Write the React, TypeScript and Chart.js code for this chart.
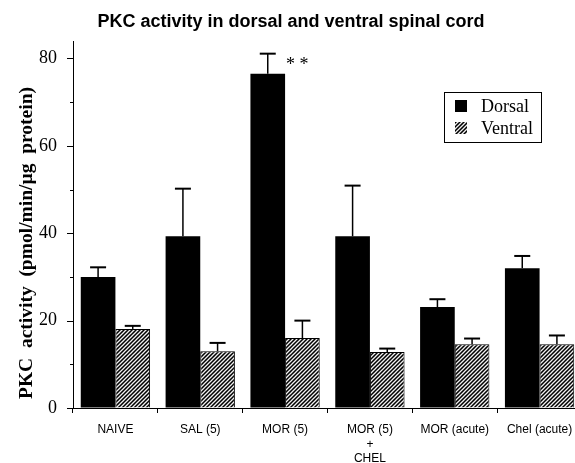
import React, { useEffect, useRef } from 'react';
import { Chart, registerables } from 'chart.js';

Chart.register(...registerables);

const TITLE = 'PKC activity in dorsal and ventral spinal cord';
const Y_TITLE = 'PKC  activity  (pmol/min/\u00b5g  protein)';
const categories: string[][] = [
  ['NAIVE'],
  ['SAL (5)'],
  ['MOR (5)'],
  ['MOR (5)', '+', 'CHEL'],
  ['MOR (acute)'],
  ['Chel (acute)'],
];
const seriesNames = ['Dorsal', 'Ventral'];
const dorsal = [30.0, 39.3, 76.5, 39.3, 23.1, 32.0];
const dorsalErr = [2.2, 10.9, 4.6, 11.6, 1.8, 2.8];
const ventral = [18.1, 13.0, 16.0, 12.8, 14.6, 14.6];
const ventralErr = [0.7, 1.9, 4.0, 0.8, 1.3, 2.0];
const majorTicks = [0, 20, 40, 60, 80];
const minorTicks = [10, 30, 50, 70];
const Y_MAX = 84;
const ANNOT_INDEX = 2;
const ANNOT_TEXT = '* *';

const SERIF = '"Liberation Serif", "Times New Roman", Times, serif';
const SANS = '"Liberation Sans", Arial, Helvetica, sans-serif';

function makeHatch(): CanvasPattern | string {
  const c = document.createElement('canvas');
  c.width = 4;
  c.height = 4;
  const g = c.getContext('2d');
  if (!g) return '#555';
  g.fillStyle = '#000';
  g.fillRect(0, 0, 4, 4);
  g.strokeStyle = '#f0f0f0';
  g.lineWidth = 1.3;
  g.beginPath();
  g.moveTo(-1, 5);
  g.lineTo(5, -1);
  g.moveTo(-1, 1);
  g.lineTo(1, -1);
  g.moveTo(3, 5);
  g.lineTo(5, 3);
  g.stroke();
  const p = g.createPattern(c, 'repeat');
  return p || '#555';
}

export default function App() {
  const ref = useRef<HTMLCanvasElement | null>(null);

  useEffect(() => {
    const canvas = ref.current;
    if (!canvas) return;
    const hatch = makeHatch();
    const errs = [dorsalErr, ventralErr];

    const decor = {
      id: 'decor',
      afterDatasetsDraw(chart: any) {
        const ctx = chart.ctx;
        const y = chart.scales.y;
        ctx.save();
        ctx.strokeStyle = '#000';
        chart.data.datasets.forEach((ds: any, i: number) => {
          const meta = chart.getDatasetMeta(i);
          meta.data.forEach((bar: any, j: number) => {
            const top = y.getPixelForValue(ds.data[j] + errs[i][j]);
            ctx.lineWidth = 1.5;
            ctx.beginPath();
            ctx.moveTo(bar.x, bar.y);
            ctx.lineTo(bar.x, top);
            ctx.stroke();
            ctx.lineWidth = 2;
            ctx.beginPath();
            ctx.moveTo(bar.x - 8, top);
            ctx.lineTo(bar.x + 8, top);
            ctx.stroke();
          });
        });
        const m0 = chart.getDatasetMeta(0).data[ANNOT_INDEX];
        const topA = y.getPixelForValue(dorsal[ANNOT_INDEX] + dorsalErr[ANNOT_INDEX]);
        ctx.fillStyle = '#000';
        ctx.font = `18px ${SERIF}`;
        ctx.textAlign = 'left';
        ctx.textBaseline = 'alphabetic';
        ctx.fillText(ANNOT_TEXT, m0.x + m0.width / 2 + 1, topA + 16);
        ctx.restore();
      },
      afterDraw(chart: any) {
        const ctx = chart.ctx;
        const y = chart.scales.y;
        const left = chart.chartArea.left;
        ctx.save();
        ctx.strokeStyle = '#000';
        ctx.lineWidth = 1;
        majorTicks.forEach((v) => {
          const py = Math.round(y.getPixelForValue(v)) + 0.5;
          ctx.beginPath();
          ctx.moveTo(left - 6, py);
          ctx.lineTo(left, py);
          ctx.stroke();
        });
        minorTicks.forEach((v) => {
          const py = Math.round(y.getPixelForValue(v)) + 0.5;
          ctx.beginPath();
          ctx.moveTo(left - 3, py);
          ctx.lineTo(left, py);
          ctx.stroke();
        });
        ctx.fillStyle = '#000';
        ctx.font = `bold 19.5px ${SERIF}`;
        ctx.textAlign = 'center';
        ctx.textBaseline = 'middle';
        ctx.translate(27, 243);
        ctx.rotate(-Math.PI / 2);
        ctx.fillText(Y_TITLE, 0, 0);
        ctx.restore();

        ctx.save();
        const bx = 444.5, by = 92.5, bw = 97, bh = 50;
        ctx.strokeStyle = '#000';
        ctx.lineWidth = 1;
        ctx.strokeRect(bx, by, bw, bh);
        const rows = [106, 128];
        const fills = ['#000', hatch];
        ctx.font = `18px ${SERIF}`;
        ctx.textAlign = 'left';
        ctx.textBaseline = 'middle';
        seriesNames.forEach((name, i) => {
          ctx.fillStyle = fills[i] as any;
          ctx.fillRect(455, rows[i] - 6, 12, 12);
          ctx.fillStyle = '#000';
          ctx.fillText(name, 481, rows[i] + 1);
        });
        ctx.restore();
      },
    };

    const chart = new Chart(canvas, {
      type: 'bar',
      data: {
        labels: categories as any,
        datasets: [
          {
            label: seriesNames[0],
            data: dorsal,
            backgroundColor: '#000',
            borderWidth: 0,
          },
          {
            label: seriesNames[1],
            data: ventral,
            backgroundColor: hatch as any,
            borderColor: '#000',
            borderWidth: 1,
          },
        ],
      },
      options: {
        responsive: false,
        animation: false,
        devicePixelRatio: 1,
        layout: { padding: { left: 0, right: 8, top: 0, bottom: 0 } },
        datasets: { bar: { categoryPercentage: 0.817, barPercentage: 1 } },
        plugins: {
          legend: { display: false },
          tooltip: { enabled: false },
          title: {
            display: true,
            text: TITLE,
            color: '#000',
            font: { family: SANS, size: 18, weight: 'bold' },
            padding: { top: 11, bottom: 8.4 },
          },
        },
        scales: {
          x: {
            grid: {
              offset: true,
              drawOnChartArea: false,
              drawTicks: true,
              tickLength: 5,
              color: '#000',
              lineWidth: 1,
            },
            border: { display: true, color: '#000', width: 1 },
            ticks: {
              color: '#000',
              font: { family: SANS, size: 12, lineHeight: 1.18 },
              padding: 10,
              maxRotation: 0,
              autoSkip: false,
            },
            afterFit: (s: any) => {
              s.height = 55;
            },
          },
          y: {
            min: 0,
            max: Y_MAX,
            afterBuildTicks: (s: any) => {
              s.ticks = majorTicks.map((v) => ({ value: v }));
            },
            ticks: {
              autoSkip: false,
              color: '#000',
              font: { family: SERIF, size: 18 },
              padding: 16,
            },
            grid: { drawOnChartArea: false, drawTicks: false },
            border: { display: true, color: '#000', width: 1 },
            afterFit: (s: any) => {
              s.width = 73;
            },
          },
        },
      },
      plugins: [decor],
    });

    return () => chart.destroy();
  }, []);

  return (
    <div
      style={{
        position: 'fixed',
        left: 0,
        top: 0,
        width: 575,
        height: 463,
        overflow: 'hidden',
        background: '#fff',
      }}
    >
      <canvas ref={ref} width={590} height={463} style={{ display: 'block' }} />
    </div>
  );
}
